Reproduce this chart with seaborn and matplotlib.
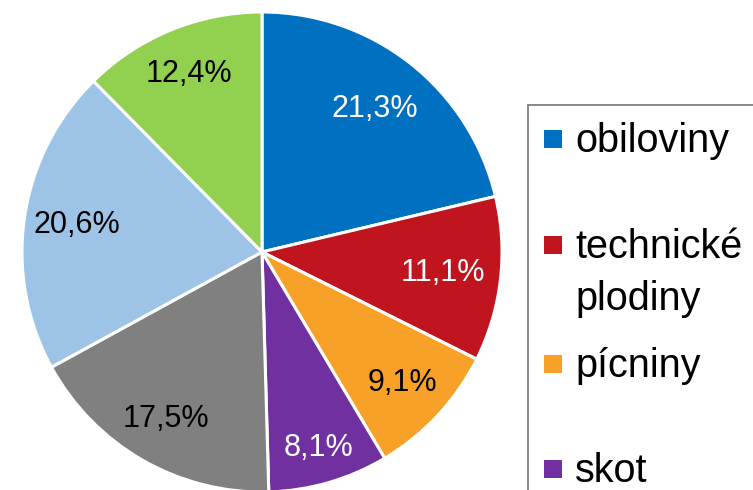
import matplotlib
matplotlib.use("Agg")
import numpy as np
import matplotlib.pyplot as plt
import seaborn as sns
from matplotlib.patches import Rectangle

sns.set_theme(style="white")
plt.rcParams['font.family'] = ['Liberation Sans', 'DejaVu Sans']

# data (clockwise from 12 o'clock)
values = [21.3, 11.1, 9.1, 8.1, 17.5, 20.6, 12.4]
pct_labels = ["21,3%", "11,1%", "9,1%", "8,1%", "17,5%", "20,6%", "12,4%"]
colors = ["#0070C0", "#C0141E", "#F8A128", "#7030A0", "#808080", "#9DC3E6", "#92D050"]
label_colors = ["white", "white", "black", "white", "black", "black", "black"]
label_dist = [0.76, 0.76, 0.80, 0.85, 0.80, 0.78, 0.80]
# visible legend entries (the remainder is cut off in the original)
legend_labels = [["obiloviny"], ["technické", "plodiny"], ["pícniny"], ["skot"]]
legend_colors = colors[:4]

W, H = 753, 490
fig = plt.figure(figsize=(W / 100, H / 100), dpi=100)
fig.patch.set_facecolor("white")

cx, cy, R = 262, 252, 240
ax = fig.add_axes([(cx - R) / W, (H - cy - R) / H, 2 * R / W, 2 * R / H])
wedges, texts = ax.pie(values, colors=colors, startangle=90, counterclock=False,
                       labels=pct_labels, labeldistance=0.79,
                       wedgeprops=dict(edgecolor="white", linewidth=2.2),
                       textprops=dict(fontsize=22, ha="center", va="center"))
for w, t, c, d in zip(wedges, texts, label_colors, label_dist):
    th = np.deg2rad((w.theta1 + w.theta2) / 2)
    t.set_position((d * np.cos(th), d * np.sin(th)))
    t.set_color(c)
    t.set_ha("center")
    t.set_va("center")
ax.set_xlim(-1, 1)
ax.set_ylim(-1, 1)
ax.set_aspect("equal")
ax.axis("off")

# legend box (extends beyond the canvas, as in the reference)
box = Rectangle((528 / W, -0.1), 0.5, (H - 105) / H + 0.1, transform=fig.transFigure,
                facecolor="white", edgecolor="#7f7f7f", linewidth=1.3, zorder=0)
fig.add_artist(box)

baselines = [152, 258, 377, 482]
line_step = 52
for lines, col, yb in zip(legend_labels, legend_colors, baselines):
    sq = 18
    fig.add_artist(Rectangle((544 / W, (H - yb + 4) / H), sq / W, sq / H,
                             transform=fig.transFigure, facecolor=col, edgecolor="none"))
    for i, line in enumerate(lines):
        fig.text(575 / W, (H - yb - i * line_step) / H, line, fontsize=28.5,
                 va="baseline", ha="left", color="black")

fig.savefig("out.png", dpi=100, facecolor="white")
